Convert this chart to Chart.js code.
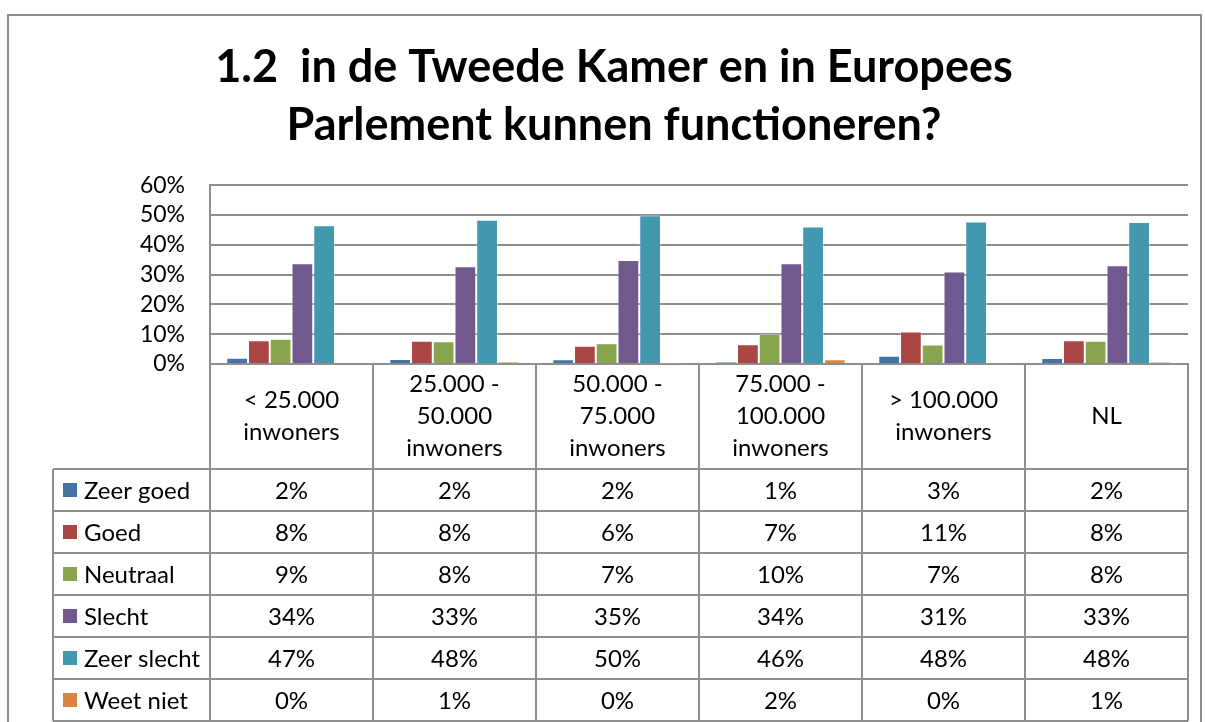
<!DOCTYPE html>
<html>
<head>
<meta charset="utf-8">
<script src="https://cdn.jsdelivr.net/npm/chart.js@4.4.1/dist/chart.umd.min.js"></script>
<style>
  html, body { margin: 0; padding: 0; background: #fff; }
  #chart { display: block; }
</style>
</head>
<body>
<canvas id="chart" width="1205" height="722"></canvas>
<script>
// categories (multi-line labels as in the data table header)
const categories = [
    ['< 25.000', 'inwoners'],
    ['25.000 -', '50.000', 'inwoners'],
    ['50.000 -', '75.000', 'inwoners'],
    ['75.000 -', '100.000', 'inwoners'],
    ['> 100.000', 'inwoners'],
    ['NL']
];
const seriesNames = ['Zeer goed', 'Goed', 'Neutraal', 'Slecht', 'Zeer slecht', 'Weet niet'];

// percentages
const zeerGoed   = [2.1, 1.7, 1.6, 0.7, 2.8, 2.0];
const goed       = [8.0, 7.8, 6.1, 6.6, 10.9, 8.0];
const neutraal   = [8.5, 7.6, 7.0, 10.1, 6.5, 7.8];
const slecht     = [33.8, 32.8, 34.9, 33.8, 31.0, 33.1];
const zeerSlecht = [46.5, 48.4, 49.9, 46.1, 47.8, 47.6];
const weetNiet   = [0.3, 0.7, 0.1, 1.6, 0.2, 0.6];

const yTicks = [0, 10, 20, 30, 40, 50, 60];

const seriesValues = [zeerGoed, goed, neutraal, slecht, zeerSlecht, weetNiet];
const seriesColors = ['#4572A7', '#AA4643', '#89A54E', '#71588F', '#4198AF', '#DB843D'];

const FONT = 'Lato, "Open Sans", sans-serif';
const GRID = '#8e8e8e';

// outer frame + data table under the plot
const tablePlugin = {
    id: 'dataTable',
    beforeDraw(chart) {
        const ctx = chart.ctx;
        ctx.save();
        ctx.strokeStyle = GRID;
        ctx.lineWidth = 2;
        ctx.strokeRect(8, 15, 1193, 740);
        ctx.restore();
    },
    afterDraw(chart) {
        const ctx = chart.ctx;
        const x = chart.scales.x;
        const area = chart.chartArea;
        const catW = (area.right - area.left) / categories.length;
        const top = area.bottom;
        const headH = 105;
        const rowH = 42;
        const legendLeft = 53;
        const rowsTop = top + headH;
        const bottom = rowsTop + rowH * seriesNames.length;

        ctx.save();
        ctx.strokeStyle = GRID;
        ctx.lineWidth = 2;
        ctx.beginPath();
        // vertical lines of the value columns
        for (let i = 0; i <= categories.length; i++) {
            const px = area.left + i * catW;
            ctx.moveTo(px, top);
            ctx.lineTo(px, bottom);
        }
        // legend column left edge
        ctx.moveTo(legendLeft, rowsTop);
        ctx.lineTo(legendLeft, bottom);
        // horizontal row lines
        for (let r = 0; r <= seriesNames.length; r++) {
            const py = rowsTop + r * rowH;
            ctx.moveTo(legendLeft, py);
            ctx.lineTo(area.right, py);
        }
        ctx.stroke();

        ctx.fillStyle = '#000';
        ctx.font = '24px ' + FONT;
        ctx.textAlign = 'center';
        ctx.textBaseline = 'middle';

        // header: category labels
        categories.forEach((lab, i) => {
            const cx = x.getPixelForValue(i);
            const lh = 32;
            const y0 = top + headH / 2 - (lab.length - 1) * lh / 2;
            lab.forEach((line, k) => ctx.fillText(line, cx, y0 + k * lh));
        });

        // rows: legend key + rounded values
        seriesNames.forEach((name, r) => {
            const cy = rowsTop + r * rowH + rowH / 2;
            ctx.fillStyle = seriesColors[r];
            ctx.fillRect(63, cy - 7, 14, 14);
            ctx.fillStyle = '#000';
            ctx.textAlign = 'left';
            ctx.fillText(name, 84, cy + 1);
            ctx.textAlign = 'center';
            seriesValues[r].forEach((v, i) => {
                ctx.fillText(Math.round(v) + '%', x.getPixelForValue(i), cy + 1);
            });
        });
        ctx.restore();
    }
};

new Chart(document.getElementById('chart'), {
    type: 'bar',
    data: {
        labels: categories,
        datasets: seriesNames.map((name, i) => ({
            label: name,
            data: seriesValues[i],
            backgroundColor: seriesColors[i],
            borderColor: 'rgba(255,255,255,0.35)',
            borderWidth: 1,
            categoryPercentage: 0.8,
            barPercentage: 1.0
        }))
    },
    options: {
        responsive: false,
        animation: false,
        devicePixelRatio: 1,
        layout: { padding: { left: 40, right: 17, top: 0, bottom: 358 } },
        plugins: {
            legend: { display: false },
            tooltip: { enabled: false },
            title: {
                display: true,
                text: ['1.2  in de Tweede Kamer en in Europees', 'Parlement kunnen functioneren?'],
                color: '#000',
                font: { family: FONT, size: 45, weight: 'bold', lineHeight: 1.29 },
                padding: { top: 38, bottom: 31 }
            }
        },
        scales: {
            x: {
                ticks: { display: false },
                grid: { display: false },
                border: { display: true, color: GRID, width: 2 },
                afterFit(scale) { scale.height = 0; }
            },
            y: {
                min: 0,
                max: 60,
                afterBuildTicks(scale) { scale.ticks = yTicks.map(v => ({ value: v })); },
                ticks: {
                    color: '#000',
                    font: { family: FONT, size: 23 },
                    padding: 25,
                    autoSkip: false,
                    callback: v => v + '%'
                },
                grid: { color: GRID, lineWidth: 2, drawTicks: false },
                border: { color: GRID, width: 2 },
                afterFit(scale) { scale.width = 170; }
            }
        }
    },
    plugins: [tablePlugin]
});
</script>
</body>
</html>
